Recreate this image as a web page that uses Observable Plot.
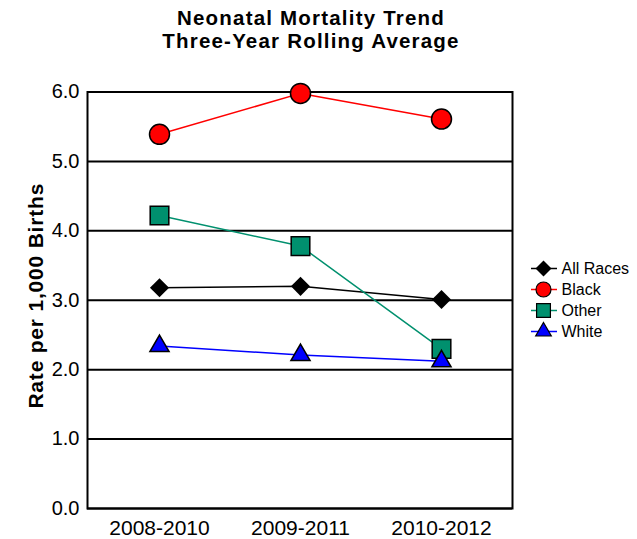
<!DOCTYPE html>
<html>
<head>
<meta charset="utf-8">
<script src="https://cdn.jsdelivr.net/npm/d3@7"></script>
<script src="https://cdn.jsdelivr.net/npm/@observablehq/plot@0.6"></script>
<style>
  html, body { margin: 0; padding: 0; background: #fff; }
  #wrap { position: relative; width: 637px; height: 539px; overflow: hidden; font-family: "Liberation Sans", Arial, sans-serif; }
  .tline { position: absolute; left: 0; width: 622px; text-align: center; font-weight: bold; font-size: 20.5px; line-height: 23px; letter-spacing: 1.2px; color: #000; white-space: nowrap; }
  #t1 { top: 5.9px; }
  #t2 { top: 29px; }
  #chart { position: absolute; left: 0; top: 0; }
  #legend { position: absolute; left: 525px; top: 255px; }
</style>
</head>
<body>
<div id="wrap">
  <div id="chart"></div>
  <div class="tline" id="t1">Neonatal Mortality Trend</div>
  <div class="tline" id="t2">Three-Year Rolling Average</div>
  <div id="legend"></div>
</div>
<script>
// ---- data ----
const periods = ["2008-2010", "2009-2011", "2010-2012"];
const seriesNames = ["All Races", "Black", "Other", "White"];
const allRaces = [3.18, 3.20, 3.01];
const black = [5.39, 5.98, 5.61];
const other = [4.22, 3.78, 2.30];
const white = [2.34, 2.21, 2.12];
const yTicks = [0, 1, 2, 3, 4, 5, 6];
const yLabel = "Rate per 1,000 Births";

// ---- styling ----
const seriesColors = ["#000000", "#ff0000", "#00906e", "#0000ff"];
const markerStyle = {
  "All Races": { symbol: "diamond2", r: 8.6, fill: "#000000", stroke: "none", lr: 7.2 },
  "Black": { symbol: "circle", r: 10, fill: "#ff0000", stroke: "#000000", lr: 7.5 },
  "Other": { symbol: "square", r: 10.5, fill: "#00906e", stroke: "#000000", lr: 7.8 },
  "White": { symbol: "triangle", r: 7.1, fill: "#0000ff", stroke: "#000000", lr: 5.8 }
};

const valueArrays = [allRaces, black, other, white];
const rows = seriesNames.flatMap((s, i) =>
  periods.map((p, j) => ({ series: s, period: p, value: valueArrays[i][j] }))
);

const font = "'Liberation Sans', Arial, Helvetica, sans-serif";
const symbolNames = ["diamond2", "circle", "square", "triangle"];

const dotMarks = seriesNames.map(s => {
  const m = markerStyle[s];
  return Plot.dot(rows.filter(d => d.series === s), {
    x: "period", y: "value", symbol: () => m.symbol, r: m.r,
    fill: m.fill, stroke: m.stroke, strokeWidth: 1.5
  });
});

const chart = Plot.plot({
  width: 637, height: 539,
  marginTop: 91.5, marginBottom: 31, marginLeft: 87, marginRight: 125,
  style: { fontFamily: font, fontSize: "20px", color: "#000", background: "transparent" },
  x: { type: "point", domain: periods, padding: 0.5 },
  y: { domain: [0, 6] },
  color: { domain: seriesNames, range: seriesColors },
  symbol: { domain: symbolNames, range: symbolNames },
  marks: [
    Plot.gridY(yTicks, { stroke: "#000", strokeOpacity: 1, strokeWidth: 2 }),
    Plot.axisY(yTicks, { tickFormat: d3.format(".1f"), tickSize: 0, tickPadding: 8, fontSize: 20, label: null }),
    Plot.axisX({ tickSize: 0, tickPadding: 12, fontSize: 21, label: null }),
    Plot.frame({ stroke: "#000", strokeWidth: 2 }),
    Plot.line(rows, { x: "period", y: "value", z: "series", stroke: "series", strokeWidth: 1.5 }),
    ...dotMarks,
    Plot.text([yLabel], { text: d => d, frameAnchor: "left", rotate: -90, dx: -51, dy: -4.5,
      fontSize: 21, fontWeight: "bold", textAnchor: "middle", lineAnchor: "middle", fill: "#000" })
  ]
});
chart.querySelectorAll("text").forEach(t => {
  if (t.textContent === yLabel) t.setAttribute("letter-spacing", "0.8px");
});
document.getElementById("chart").append(chart);

// ---- legend (small Plot) ----
const legendDots = seriesNames.map(s => {
  const m = markerStyle[s];
  return Plot.dot([s], {
    x: 18, y: d => d, symbol: () => m.symbol, r: m.lr,
    fill: m.fill, stroke: m.stroke, strokeWidth: 1.2
  });
});
const legend = Plot.plot({
  width: 112, height: 90, margin: 0,
  style: { fontFamily: font, fontSize: "16px", color: "#000", background: "transparent" },
  x: { domain: [0, 112], range: [0, 112], axis: null },
  y: { type: "point", domain: seriesNames, range: [13, 76], padding: 0, axis: null },
  color: { domain: seriesNames, range: seriesColors },
  symbol: { domain: symbolNames, range: symbolNames },
  marks: [
    Plot.ruleY(seriesNames, { y: d => d, x1: 6, x2: 32, stroke: d => d, strokeWidth: 1.5 }),
    ...legendDots,
    Plot.text(seriesNames, { x: 36, y: d => d, text: d => d, textAnchor: "start", fontSize: 16, fill: "#000" })
  ]
});
document.getElementById("legend").append(legend);
</script>
</body>
</html>
